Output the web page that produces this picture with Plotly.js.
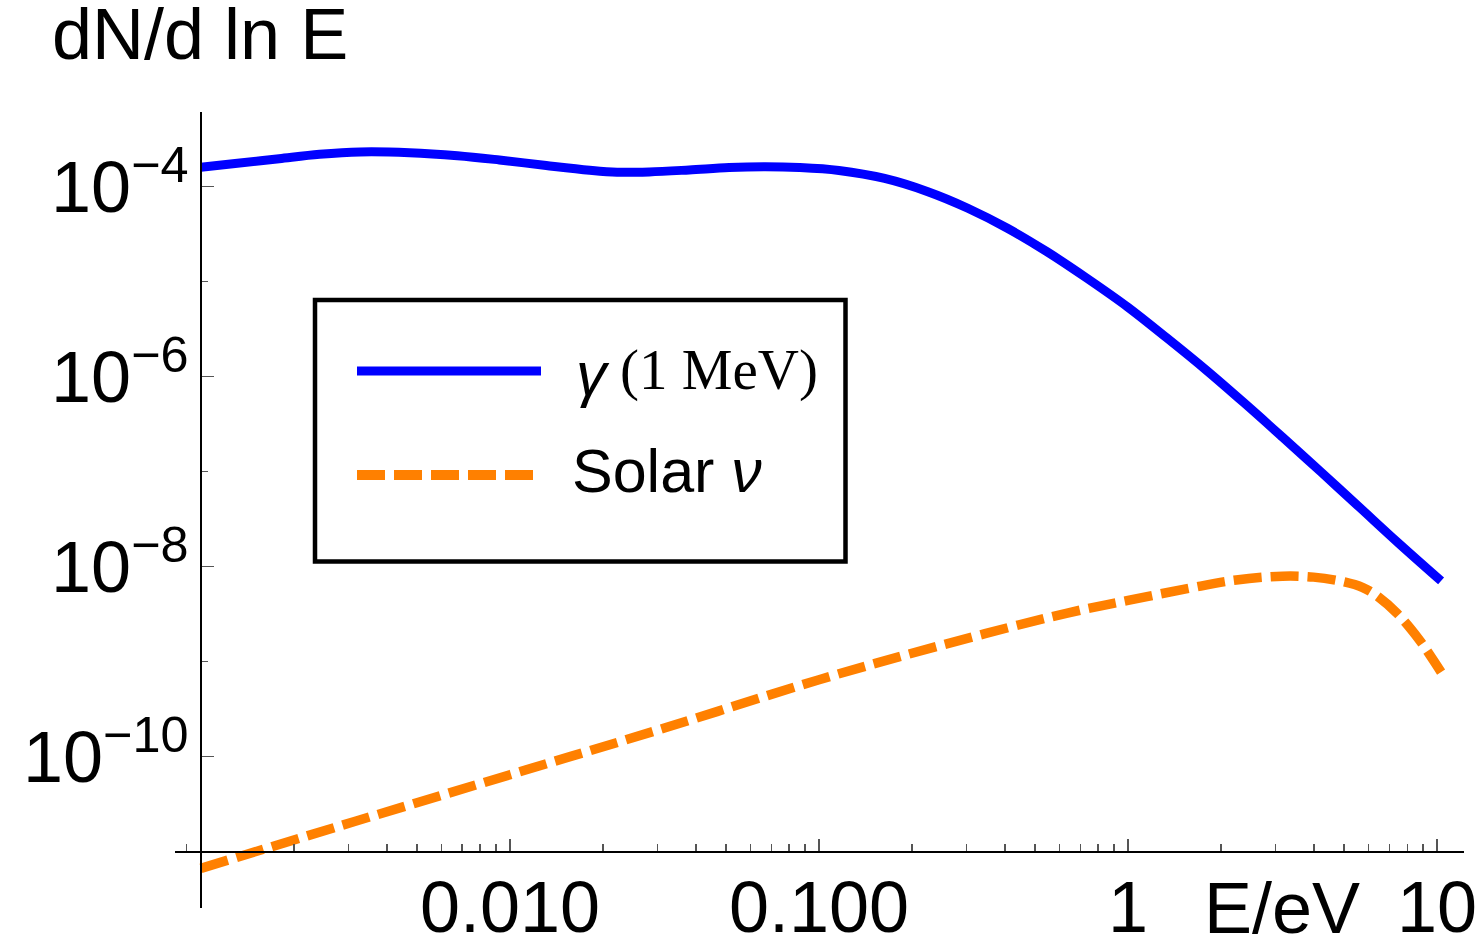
<!DOCTYPE html>
<html>
<head>
<meta charset="utf-8">
<script src="https://cdn.plot.ly/plotly-3.0.1.min.js"></script>
<style>
  html, body { margin: 0; padding: 0; background: #ffffff; }
  #chart { width: 1484px; height: 940px; }
</style>
</head>
<body>
<div id="chart"></div>
<script>
// Photon spectrum from a 1 MeV source, dN/d ln E versus E (eV)
const energyGamma = [1.00e-3, 1.29e-3, 1.79e-3, 2.42e-3, 3.27e-3, 4.73e-3, 6.76e-3, 9.24e-3,
  1.31e-2, 1.81e-2, 2.22e-2, 2.82e-2, 3.80e-2, 5.12e-2, 6.70e-2, 8.63e-2, 1.16e-1, 1.63e-1,
  2.25e-1, 3.03e-1, 4.07e-1, 5.46e-1, 7.35e-1, 1.00, 1.33, 1.78, 2.37, 3.16, 4.22, 5.62,
  7.50, 10.3];
const fluxGamma = [1.60e-4, 1.75e-4, 1.97e-4, 2.19e-4, 2.32e-4, 2.28e-4, 2.12e-4, 1.91e-4,
  1.67e-4, 1.49e-4, 1.42e-4, 1.43e-4, 1.50e-4, 1.59e-4, 1.62e-4, 1.59e-4, 1.48e-4, 1.22e-4,
  8.85e-5, 5.93e-5, 3.65e-5, 2.07e-5, 1.09e-5, 5.37e-6, 2.58e-6, 1.19e-6, 5.32e-7, 2.31e-7,
  9.86e-8, 4.19e-8, 1.77e-8, 7.08e-9];

// Solar neutrino spectrum on the same axes
const energySolar = [1.00e-3, 3.16e-3, 1.00e-2, 3.16e-2, 1.00e-1, 2.51e-1, 6.31e-1, 1.00,
  1.58, 2.24, 3.16, 3.98, 5.01, 5.75, 6.31, 7.41, 8.71, 9.66, 10.3];
const fluxSolar = [6.67e-12, 2.09e-11, 6.46e-11, 2.00e-10, 6.46e-10, 1.50e-9, 3.23e-9, 4.41e-9,
  5.93e-9, 7.24e-9, 7.94e-9, 7.76e-9, 6.92e-9, 6.03e-9, 5.07e-9, 3.24e-9, 1.74e-9, 1.07e-9, 7.76e-10];

const seriesNames = ['γ (1 MeV)', 'Solar ν'];

const xTickVals = [0.01, 0.1, 1, 10];
const xTickText = ['0.010', '0.100', '1', '10'];
const xMinorVals = [0.0009, 0.002, 0.003, 0.004, 0.005, 0.006, 0.007, 0.008, 0.009,
  0.02, 0.03, 0.04, 0.05, 0.06, 0.07, 0.08, 0.09,
  0.2, 0.3, 0.4, 0.5, 0.6, 0.7, 0.8, 0.9,
  2, 3, 4, 5, 6, 7, 8, 9];
const yTickVals = [1e-4, 1e-6, 1e-8, 1e-10];
const yTickText = ['10<sup>−4</sup>', '10<sup>−6</sup>', '10<sup>−8</sup>', '10<sup>−10</sup>'];
const yMinorVals = [1e-5, 1e-7, 1e-9];

const yAxisLabel = 'dN/d ln E';
const xAxisLabel = 'E/eV';

// page geometry (pixels)
const W = 1484, H = 940;
const M = { l: 175, r: 20, t: 112, b: 32 };
const PW = W - M.l - M.r, PH = H - M.t - M.b;
const px = v => (v - M.l) / PW;          // page x -> paper x
const py = v => (H - M.b - v) / PH;      // page y -> paper y

const BLUE = '#0000ff';
const ORANGE = '#ff8000';
const SANS = 'Liberation Sans, Arial, sans-serif';
const SERIF = 'Liberation Serif, Times New Roman, serif';

const traces = [
  {
    x: energyGamma, y: fluxGamma, name: seriesNames[0], type: 'scatter', mode: 'lines',
    line: { color: BLUE, width: 9, shape: 'spline', smoothing: 1.0 },
    showlegend: false, hoverinfo: 'x+y'
  },
  {
    x: energySolar, y: fluxSolar, name: seriesNames[1], type: 'scatter', mode: 'lines',
    line: { color: ORANGE, width: 9.5, dash: '28px,9px', shape: 'spline', smoothing: 1.0 },
    showlegend: false, hoverinfo: 'x+y'
  }
];

const tickStyle = { ticks: 'inside', tickcolor: '#555555', tickwidth: 1.3 };

const layout = {
  width: W, height: H,
  margin: M,
  paper_bgcolor: '#ffffff', plot_bgcolor: '#ffffff',
  font: { family: SANS, size: 72, color: '#000000' },
  showlegend: false,
  xaxis: {
    type: 'log', range: [-3.084, 1.087],
    anchor: 'free', position: py(852),
    showline: true, linecolor: '#000000', linewidth: 2,
    showgrid: false, zeroline: false,
    tickmode: 'array', tickvals: xTickVals, ticktext: xTickText,
    ticklen: 12, ...tickStyle,
    tickfont: { family: SANS, size: 72, color: '#000000' },
    ticklabelstandoff: -7,
    minor: { tickmode: 'array', tickvals: xMinorVals, ticklen: 7, showgrid: false, ...tickStyle }
  },
  yaxis: {
    type: 'log', range: [-11.593, -3.214],
    anchor: 'free', position: px(201),
    showline: true, linecolor: '#000000', linewidth: 2,
    showgrid: false, zeroline: false,
    tickmode: 'array', tickvals: yTickVals, ticktext: yTickText,
    ticklen: 12, ...tickStyle,
    tickfont: { family: SANS, size: 72, color: '#000000' },
    ticklabelstandoff: -3,
    minor: { tickmode: 'array', tickvals: yMinorVals, ticklen: 6, showgrid: false, ...tickStyle }
  },
  shapes: [
    // legend frame
    { type: 'rect', xref: 'paper', yref: 'paper',
      x0: px(315), x1: px(845.5), y0: py(561.5), y1: py(300),
      line: { color: '#000000', width: 4.5 }, fillcolor: '#ffffff', layer: 'below' },
    // legend samples
    { type: 'line', xref: 'paper', yref: 'paper',
      x0: px(357), x1: px(541), y0: py(371), y1: py(371),
      line: { color: BLUE, width: 9 } },
    { type: 'line', xref: 'paper', yref: 'paper',
      x0: px(357), x1: px(533), y0: py(475), y1: py(475),
      line: { color: ORANGE, width: 10, dash: '28px,9px' } }
  ],
  annotations: [
    { text: yAxisLabel, xref: 'paper', yref: 'paper', x: px(50), y: py(34),
      xanchor: 'left', yanchor: 'middle', showarrow: false,
      font: { family: SANS, size: 72, color: '#000000' } },
    { text: xAxisLabel, xref: 'paper', yref: 'paper', x: px(1282), y: py(908),
      xanchor: 'center', yanchor: 'middle', showarrow: false,
      font: { family: SANS, size: 72, color: '#000000' } },
    { text: '<i>γ</i>', xref: 'paper', yref: 'paper', x: px(574), y: py(374),
      xanchor: 'left', yanchor: 'middle', showarrow: false,
      font: { family: SANS, size: 61, color: '#000000' } },
    { text: '(1 MeV)', xref: 'paper', yref: 'paper', x: px(618), y: py(370),
      xanchor: 'left', yanchor: 'middle', showarrow: false,
      font: { family: SERIF, size: 57, color: '#000000' } },
    { text: 'Solar <i>ν</i>', xref: 'paper', yref: 'paper', x: px(570), y: py(471),
      xanchor: 'left', yanchor: 'middle', showarrow: false,
      font: { family: SANS, size: 61, color: '#000000' } }
  ]
};

Plotly.newPlot('chart', traces, layout, { staticPlot: true, displayModeBar: false });
</script>
</body>
</html>
